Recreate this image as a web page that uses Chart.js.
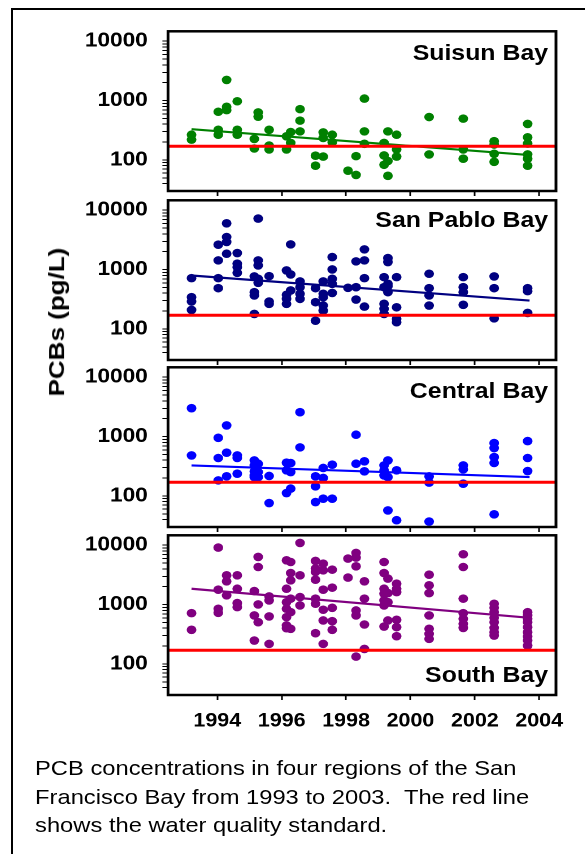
<!DOCTYPE html>
<html>
<head>
<meta charset="utf-8">
<script src="https://cdn.jsdelivr.net/npm/chart.js@4.4.1/dist/chart.umd.min.js"></script>
<style>
  body { margin:0; background:#fff; width:585px; height:854px; overflow:hidden; position:relative;
         font-family:"Liberation Sans", Arial, sans-serif; color:#000; }
  #frame { position:absolute; left:11px; top:8px; width:700px; height:900px;
           border-left:2.5px solid #000; border-top:2.5px solid #000; }
  /* whole figure is drawn a bit narrow and stretched, like the original */
  #fig { position:absolute; left:0; top:0; width:518px; height:854px; transform:scaleX(1.13); transform-origin:0 0; }
  canvas { position:absolute; left:0; }
  .bay { position:absolute; right:33px; font-weight:bold; font-size:22px; line-height:22px; white-space:nowrap; }
  #ytitle { position:absolute; left:50px; top:322px; font-weight:bold; font-size:20px; line-height:20px; white-space:nowrap;
            transform:translate(-50%,-50%) rotate(-90deg) scaleX(1.3); }
  #caption { position:absolute; left:31px; top:754px; font-size:21px; line-height:28.5px; white-space:pre; }
</style>
</head>
<body>
<div id="frame"></div>
<div id="fig">
  <canvas id="c1" width="518" height="170" style="top:27px"></canvas>
  <canvas id="c2" width="518" height="170" style="top:196px"></canvas>
  <canvas id="c3" width="518" height="170" style="top:363px"></canvas>
  <canvas id="c4" width="518" height="204" style="top:531px"></canvas>
  <div class="bay" style="top:42px">Suisun Bay</div>
  <div class="bay" style="top:209px">San Pablo Bay</div>
  <div class="bay" style="top:380px">Central Bay</div>
  <div class="bay" style="top:664px">South Bay</div>
  <div id="ytitle">PCBs (pg/L)</div>
  <div id="caption">PCB concentrations in four regions of the San
Francisco Bay from 1993 to 2003.  The red line
shows the water quality standard.</div>
</div>
<script>
// sampling dates (decimal years), shared by the four regions
const sampleDates = [1993.2, 1994.03, 1994.29, 1994.62, 1995.15, 1995.27, 1995.61, 1996.15, 1996.28, 1996.57,
  1997.05, 1997.29, 1997.57, 1998.06, 1998.31, 1998.57, 1999.18, 1999.3, 1999.57, 2000.58, 2001.64, 2002.6, 2003.64];

// PCBs (pg/L) measured at each sampling date
const suisunPCB = [[266, 220], [649, 322, 266], [2230, 785, 691], [975, 322, 266], [226, 156], [632, 536],
  [322, 175, 150], [250, 150], [295, 194], [718, 460, 303], [118, 80], [291, 235, 114], [266, 199], [66],
  [116, 56], [1080, 303, 187], [194, 119, 83], [303, 96, 54], [266, 150, 114], [529, 124], [497, 150, 105],
  [207, 182, 127, 93], [405, 241, 189, 124, 105, 80]];
const sanPabloPCB = [[718, 343, 290, 209], [2630, 1430, 718, 487], [6030, 3540, 2920, 1850], [1900, 1260, 1100, 884],
  [767, 417, 366, 179], [7230, 1430, 1175, 700, 599], [776, 290, 265], [968, 376, 265, 321], [2660, 828, 445],
  [631, 506, 391, 321], [487, 283, 138], [631, 391, 343, 248, 204], [1625, 1006, 700, 577, 405], [493],
  [1375, 506, 313], [2190, 1430, 718, 238], [747, 506, 265, 218, 179], [1563, 1340, 577, 526, 417],
  [747, 232, 148, 130], [851, 487, 366, 248], [747, 506, 417, 255], [767, 487, 151], [487, 434, 186]];
const centralPCB = [[3010, 482], [955, 436, 183], [1540, 535, 214], [482, 436, 237], [397, 327, 260, 222, 208],
  [349, 253, 208], [217, 76], [363, 270, 112], [358, 253, 133], [2580, 658], [214, 145, 79], [296, 201, 90],
  [336, 90], [], [1075, 349], [383, 260], [327, 270, 222], [397, 208, 57], [270, 39], [214, 168, 37],
  [327, 281, 161], [778, 641, 452, 359, 49], [840, 436, 263]];
const southPCB = [[718, 376], [9130, 1782, 851, 728], [3110, 2470, 1430], [3110, 1850, 1060, 907], [1690, 656, 248],
  [6350, 4300, 1007, 506], [1375, 1175, 631, 218], [5570, 1850, 1100, 851, 615, 445, 401],
  [5220, 3400, 2560, 1260, 747, 391], [10940, 3110, 1340, 968], [5430, 4040, 3540, 2630, 1260, 1033, 330],
  [4900, 3780, 1782, 819, 540, 218], [3880, 1930, 884, 526, 376], [5960, 2850], [7410, 6190, 4420, 796, 656, 133],
  [2470, 1260, 462, 179], [5220, 3400, 1850, 1525, 1175, 968, 427], [2740, 1563, 1100, 540],
  [2250, 1850, 1625, 554, 417, 294], [3190, 2110, 1563, 656, 391, 321, 265], [7050, 4300, 1260, 718, 577, 475, 405],
  [1033, 884, 747, 599, 506, 405, 343, 301], [747, 656, 577, 506, 417, 343, 290, 248, 204]];

// trend lines (start / end)
const trendYears = [1993.2, 2003.7];
const suisunTrend = [330, 121];
const sanPabloTrend = [796, 301];
const centralTrend = [327, 208];
const southTrend = [1850, 599];

const waterStandard = 170;
const yearTicks = [1994, 1996, 1998, 2000, 2002, 2004];
const labelledTicks = [100, 1000, 10000];

const xMin = 1992.47, xMax = 2004.52;
const yMin = 30, yMax = 14700;

// log tick marks: 40..90, 100..900, 1000..9000, 10000
const logTicks = [];
[10, 100, 1000].forEach(d => {
  for (let m = 1; m <= 9; m++) {
    const v = d * m;
    if (v > yMin && v < yMax) logTicks.push(v);
  }
});
logTicks.push(10000);

const boldFont = "'Liberation Sans', Arial, sans-serif";

// black frame round each panel
const panelBox = {
  id: 'panelBox',
  afterDraw(chart) {
    const { ctx, chartArea: a } = chart;
    ctx.save();
    ctx.lineWidth = 2.5;
    ctx.strokeStyle = '#000';
    ctx.strokeRect(a.left, a.top, a.right - a.left, a.bottom - a.top);
    ctx.restore();
  }
};

function makePanel(id, values, trend, color, showYears) {
  const points = [];
  sampleDates.forEach((d, i) => values[i].forEach(v => points.push({ x: d, y: v })));

  new Chart(document.getElementById(id), {
    type: 'scatter',
    data: {
      datasets: [
        {
          // water quality standard
          data: [{ x: xMin, y: waterStandard }, { x: xMax, y: waterStandard }],
          showLine: true, borderColor: '#ff0000', borderWidth: 3, pointRadius: 0
        },
        {
          data: trendYears.map((x, i) => ({ x: x, y: trend[i] })),
          showLine: true, borderColor: color, borderWidth: 2.2, pointRadius: 0
        },
        {
          data: points,
          backgroundColor: color, borderColor: color, borderWidth: 0, pointRadius: 4.3
        }
      ]
    },
    options: {
      responsive: false,
      animation: false,
      devicePixelRatio: 2,
      layout: { padding: { top: 4, right: 26, bottom: 0, left: 0 } },
      plugins: { legend: { display: false }, tooltip: { enabled: false } },
      scales: {
        x: {
          type: 'linear', min: xMin, max: xMax,
          afterBuildTicks: s => { s.ticks = yearTicks.map(v => ({ value: v })); },
          afterFit: s => { s.height = showYears ? 40 : 6; s.paddingLeft = 0; s.paddingRight = 0; },
          grid: { drawOnChartArea: false, drawTicks: true, tickLength: 5, tickColor: '#000', tickWidth: 1.5 },
          border: { display: false },
          ticks: {
            display: showYears, autoSkip: false, maxRotation: 0, padding: 10, color: '#000',
            font: { family: boldFont, size: 19, weight: 'bold' },
            callback: v => String(v)
          }
        },
        y: {
          type: 'logarithmic', min: yMin, max: yMax,
          afterBuildTicks: s => { s.ticks = logTicks.map(v => ({ value: v })); },
          afterFit: s => { s.width = 148.7; s.paddingTop = 0; s.paddingBottom = 0; },
          grid: { drawOnChartArea: false, drawTicks: true, tickLength: 5, tickColor: '#000', tickWidth: 1 },
          border: { display: false },
          ticks: {
            autoSkip: false, padding: 13, color: '#000',
            font: { family: boldFont, size: 20, weight: 'bold' },
            callback: v => labelledTicks.includes(v) ? String(v) : ''
          }
        }
      }
    },
    plugins: [panelBox]
  });
}

makePanel('c1', suisunPCB, suisunTrend, '#008000', false);
makePanel('c2', sanPabloPCB, sanPabloTrend, '#000080', false);
makePanel('c3', centralPCB, centralTrend, '#0000ff', false);
makePanel('c4', southPCB, southTrend, '#800080', true);
</script>
</body>
</html>
